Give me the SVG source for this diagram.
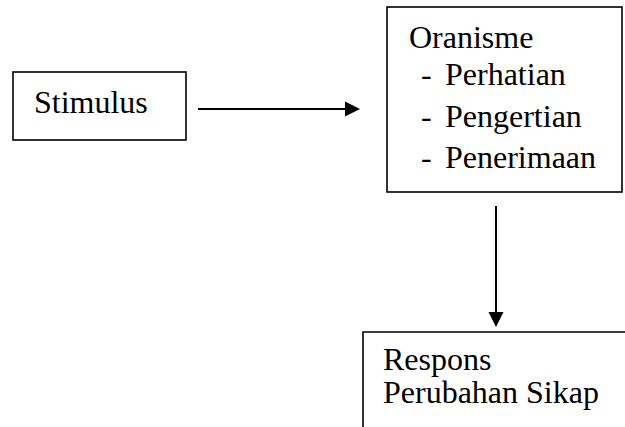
<svg xmlns="http://www.w3.org/2000/svg" width="625" height="427" viewBox="0 0 625 427">
<style>
.box{fill:#fff;stroke:#000;stroke-width:1.6}
.c{stroke:#000;stroke-width:2;fill:none}
</style>
<rect width="625" height="427" fill="#fff"/>
<g font-family="Liberation Serif, Times New Roman, DejaVu Serif, serif" font-size="32" fill="#000">
<g id="stimulus">
<rect class="box" x="13" y="72" width="173" height="68"/>
<text x="34" y="113">Stimulus</text>
</g>
<g id="organisme">
<rect class="box" x="387" y="7" width="235" height="185"/>
<text x="409" y="48">Oranisme</text>
<text x="421" y="85">-</text><text x="445" y="85">Perhatian</text>
<text x="421" y="127">-</text><text x="445" y="127">Pengertian</text>
<text x="421" y="168">-</text><text x="445" y="168">Penerimaan</text>
</g>
<g id="respons">
<path class="box" d="M363,428 L363,332 L626,332" fill="none"/>
<text x="383" y="370">Respons</text>
<text x="383" y="403">Perubahan Sikap</text>
</g>
</g>
<g id="connectors">
<path class="c" d="M198,109 L345,109"/>
<path d="M345,101.5 L360,109 L345,116.5 Z" fill="#000"/>
<path class="c" d="M496,206 L496,312"/>
<path d="M488.5,312 L496,327 L503.5,312 Z" fill="#000"/>
</g>
</svg>
